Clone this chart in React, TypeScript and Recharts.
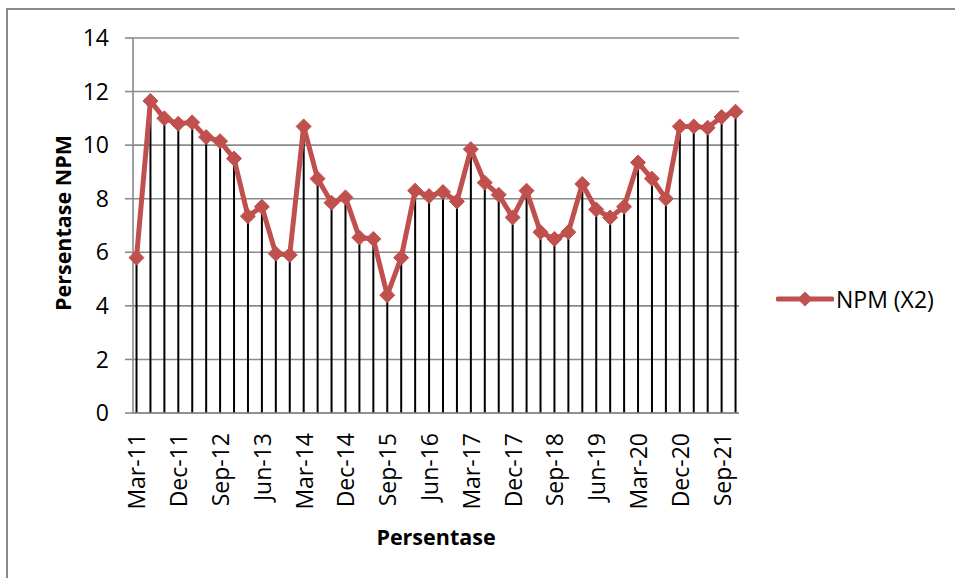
import React from "react";
import { ComposedChart, Line, Bar, XAxis, YAxis, CartesianGrid, Legend } from "recharts";

const categories = [
  "Mar-11", "Jun-11", "Sep-11", "Dec-11",
  "Mar-12", "Jun-12", "Sep-12", "Dec-12",
  "Mar-13", "Jun-13", "Sep-13", "Dec-13",
  "Mar-14", "Jun-14", "Sep-14", "Dec-14",
  "Mar-15", "Jun-15", "Sep-15", "Dec-15",
  "Mar-16", "Jun-16", "Sep-16", "Dec-16",
  "Mar-17", "Jun-17", "Sep-17", "Dec-17",
  "Mar-18", "Jun-18", "Sep-18", "Dec-18",
  "Mar-19", "Jun-19", "Sep-19", "Dec-19",
  "Mar-20", "Jun-20", "Sep-20", "Dec-20",
  "Mar-21", "Jun-21", "Sep-21", "Dec-21",
];

const npmValues = [
  5.8, 11.65, 11.0, 10.8, 10.85, 10.3, 10.15, 9.5, 7.35, 7.7, 5.95,
  5.9, 10.7, 8.75, 7.85, 8.05, 6.55, 6.5, 4.4, 5.8, 8.3, 8.1,
  8.25, 7.9, 9.85, 8.6, 8.15, 7.3, 8.3, 6.75, 6.5, 6.75, 8.55,
  7.6, 7.3, 7.7, 9.35, 8.75, 8.0, 10.7, 10.7, 10.65, 11.05, 11.25,
];

const xTickIndices = [0, 3, 6, 9, 12, 15, 18, 21, 24, 27, 30, 33, 36, 39, 42];
const yTicks = [0, 2, 4, 6, 8, 10, 12, 14];

const seriesName = "NPM (X2)";
const xTitle = "Persentase";
const yTitle = "Persentase NPM";

const data = npmValues.map((v, i) => ({ i, label: categories[i], v }));

const RED = "#C0504D";
const GRID = "#8a8a8a";
const FONT = "'Open Sans', sans-serif";

const Diamond = (props: any) => {
  const { cx, cy } = props;
  if (cx == null || cy == null) return null;
  const r = 7.5;
  return (
    <polygon
      points={`${cx},${cy - r} ${cx + r},${cy} ${cx},${cy + r} ${cx - r},${cy}`}
      fill={RED}
      stroke={RED}
      strokeWidth={1}
    />
  );
};

const XTick = (props: any) => {
  const { x, y, payload } = props;
  const text = categories[payload.value];
  return (
    <text
      x={x}
      y={y}
      transform={`rotate(-90 ${x} ${y})`}
      textAnchor="end"
      dominantBaseline="central"
      fontFamily={FONT}
      fontSize={23}
      fill="#000"
    >
      {text}
    </text>
  );
};

const LegendContent = () => (
  <div style={{ display: "flex", alignItems: "center", fontFamily: FONT, fontSize: 23 }}>
    <svg width={58} height={20} style={{ marginRight: 2 }}>
      <line x1={2} y1={10} x2={56} y2={10} stroke={RED} strokeWidth={5} strokeLinecap="round" />
      <polygon points="29,2.5 36.5,10 29,17.5 21.5,10" fill={RED} />
    </svg>
    <span style={{ color: "#000" }}>{seriesName}</span>
  </div>
);

export default function App() {
  return (
    <div
      style={{
        position: "absolute",
        left: 0,
        top: 0,
        width: 955,
        height: 578,
        overflow: "hidden",
        background: "#fff",
      }}
    >
      <div
        style={{
          position: "absolute",
          left: 6,
          top: 8,
          width: 1000,
          height: 1000,
          borderLeft: "2px solid #8a8a8a",
          borderTop: "2px solid #8a8a8a",
        }}
      />
      <div style={{ position: "absolute", left: 0, top: 0 }}>
        <ComposedChart
          width={955}
          height={578}
          data={data}
          margin={{ top: 38, right: 216, bottom: 25, left: 37 }}
        >
          <CartesianGrid vertical={false} stroke={GRID} strokeWidth={1.6} />
          <XAxis
            type="number"
            dataKey="i"
            domain={[-0.25, 43.25]}
            ticks={xTickIndices}
            interval={0}
            height={140}
            tickLine={false}
            tickSize={0}
            tickMargin={20}
            axisLine={{ stroke: GRID, strokeWidth: 1.6 }}
            tick={<XTick />}
            label={{
              value: xTitle,
              position: "insideBottom",
              offset: 8,
              fontFamily: FONT,
              fontSize: 21.5,
              fontWeight: 700,
              fill: "#000",
            }}
          />
          <YAxis
            type="number"
            domain={[0, 14]}
            ticks={yTicks}
            width={96}
            tickSize={8}
            tickMargin={16}
            axisLine={{ stroke: GRID, strokeWidth: 1.6 }}
            tickLine={{ stroke: GRID, strokeWidth: 1.6 }}
            tick={{ fontFamily: FONT, fontSize: 23, fill: "#000" }}
            label={{
              content: () => (
                <text
                  x={62}
                  y={223}
                  transform="rotate(-90 62 223)"
                  textAnchor="middle"
                  dominantBaseline="central"
                  fontFamily={FONT}
                  fontSize={21.5}
                  fontWeight={700}
                  fill="#000"
                >
                  {yTitle}
                </text>
              ),
            }}
          />
          <Legend
            layout="vertical"
            align="center"
            verticalAlign="middle"
            content={<LegendContent />}
            wrapperStyle={{ position: "absolute", left: 776, top: 283, width: 180 }}
          />
          <Line
            type="linear"
            dataKey="v"
            name={seriesName}
            stroke={RED}
            strokeWidth={5}
            dot={<Diamond />}
            activeDot={false}
            isAnimationActive={false}
          />
          <Bar dataKey="v" fill="#000" barSize={2} isAnimationActive={false} legendType="none" />
        </ComposedChart>
      </div>
    </div>
  );
}
